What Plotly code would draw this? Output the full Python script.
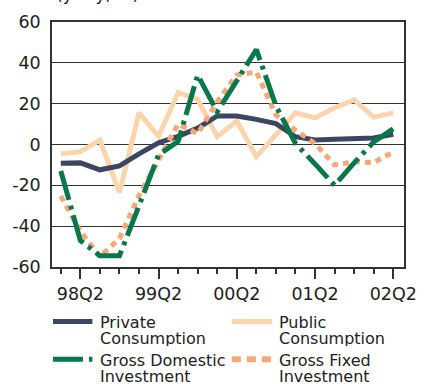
import plotly.graph_objects as go

# Quarterly growth of demand components, year-on-year (%)
quarters = ["98Q1", "98Q2", "98Q3", "98Q4", "99Q1", "99Q2", "99Q3", "99Q4",
            "00Q1", "00Q2", "00Q3", "00Q4", "01Q1", "01Q2", "01Q3", "01Q4",
            "02Q1", "02Q2"]
private_consumption = [-9.2, -9.0, -12.4, -10.5, -4.6, 0.8, 4.0, 8.0, 14.0, 14.0,
                       12.3, 10.2, 3.8, 2.2, 2.6, 3.0, 3.2, 5.0]
public_consumption = [-4.6, -3.5, 2.1, -23.5, 15.5, 4.0, 25.5, 22.0, 3.8, 11.5,
                      -6.0, 4.5, 15.5, 13.0, 18.0, 21.8, 13.4, 15.5]
gross_domestic_investment = [-13.0, -47.0, -54.5, -54.5, -30.0, -5.0, 1.5, 34.0, 16.0,
                             31.0, 46.5, 19.0, 0.5, -9.5, -20.0, -9.0, 1.3, 7.7]
gross_fixed_investment = [-25.3, -42.5, -55.0, -46.0, -25.0, -7.0, 10.0, 5.3, 21.0,
                          34.0, 35.5, 14.5, 7.0, 0.5, -10.0, -8.5, -8.8, -3.7]

labelled_quarters = ["98Q2", "99Q2", "00Q2", "01Q2", "02Q2"]
y_ticks = [-60, -40, -20, 0, 20, 40, 60]
y_tick_labels = ["-60", "-40", "-20", "0", "20", "40", "60"]

FONT = "DejaVu Sans"
TEXT = "#222222"
FRAME = "#333333"

series = [
    ("Private<br>Consumption", private_consumption, "#3c4660", "solid"),
    ("Public<br>Consumption", public_consumption, "#fcd5ad", "solid"),
    ("Gross Domestic<br>Investment", gross_domestic_investment, "#08784a", "30px,6px,4px,6px"),
    ("Gross Fixed<br>Investment", gross_fixed_investment, "#f6a878", "6px,5px"),
]

x_idx = list(range(len(quarters)))

fig = go.Figure()
# draw order: light lines first, dark investment lines on top
for k in [1, 0, 3, 2]:
    name, vals, color, dash = series[k]
    fig.add_trace(go.Scatter(
        x=x_idx, y=vals, mode="lines", name=name.replace("<br>", " "),
        line=dict(color=color, width=5, dash=dash),
        showlegend=False, hoverinfo="skip",
    ))

# plot-area geometry in pixels (used to place the hand-built legend)
W, H = 428, 384
ML, MR, MT, MB = 46, 16, 20, 117
PW, PH = W - ML - MR, H - MT - MB


def px_x(px):
    return (px - ML) / PW


def px_y(py):
    return (H - MB - py) / PH


# legend: two columns of swatch + two-line label
legend_cols = [(47, 88, 95), (233, 275, 281)]
legend_rows = [(322, 323, 339), (360, 361, 377)]
shapes = []
annotations = []
for k, (name, vals, color, dash) in enumerate(series):
    col = legend_cols[k % 2]
    row = legend_rows[k // 2]
    sw_dash = dash if dash != "6px,5px" else "9px,6px"
    shapes.append(dict(
        type="line", xref="paper", yref="paper",
        x0=px_x(col[0]), x1=px_x(col[1]), y0=px_y(row[0]), y1=px_y(row[0]),
        line=dict(color=color, width=5 if k != 3 else 6, dash=sw_dash),
    ))
    for line_text, ly in zip(name.split("<br>"), row[1:]):
        annotations.append(dict(
            text=line_text, xref="paper", yref="paper",
            x=px_x(col[2]), y=px_y(ly), xanchor="left", yanchor="middle",
            height=15, valign="middle", borderpad=0,
            showarrow=False, font=dict(family=FONT, size=16, color=TEXT),
        ))

# unit note above the frame
annotations.append(dict(
    text="(y-o-y, %)", xref="paper", yref="paper",
    x=px_x(48), y=px_y(4), xanchor="left", yanchor="bottom",
    showarrow=False, font=dict(family=FONT, size=17, color=TEXT),
))

fig.update_layout(
    width=W, height=H,
    margin=dict(l=ML, r=MR, t=MT, b=MB),
    paper_bgcolor="white", plot_bgcolor="white",
    font=dict(family=FONT, color=TEXT),
    shapes=shapes, annotations=annotations,
)

fig.update_xaxes(
    range=[-0.45, len(quarters) - 0.45],
    tickmode="array",
    tickvals=[quarters.index(q) for q in labelled_quarters],
    ticktext=labelled_quarters,
    ticks="outside", ticklen=10, tickwidth=1.5, tickcolor=FRAME,
    minor=dict(tickmode="array", tickvals=x_idx, ticks="outside",
               ticklen=5, tickwidth=1.5, tickcolor=FRAME),
    tickfont=dict(family=FONT, size=17.5, color=TEXT),
    showgrid=False, zeroline=False,
    showline=True, linecolor=FRAME, linewidth=1.5, mirror=True,
)
fig.update_yaxes(
    range=[-60, 60],
    tickmode="array", tickvals=y_ticks, ticktext=y_tick_labels,
    tickfont=dict(family=FONT, size=17.5, color=TEXT),
    ticks="", ticklabelstandoff=6,
    showgrid=True, gridcolor=FRAME, gridwidth=1.3,
    zeroline=True, zerolinecolor=FRAME, zerolinewidth=1.3,
    showline=True, linecolor=FRAME, linewidth=1.5, mirror=True,
)

fig.write_html("out.html")
